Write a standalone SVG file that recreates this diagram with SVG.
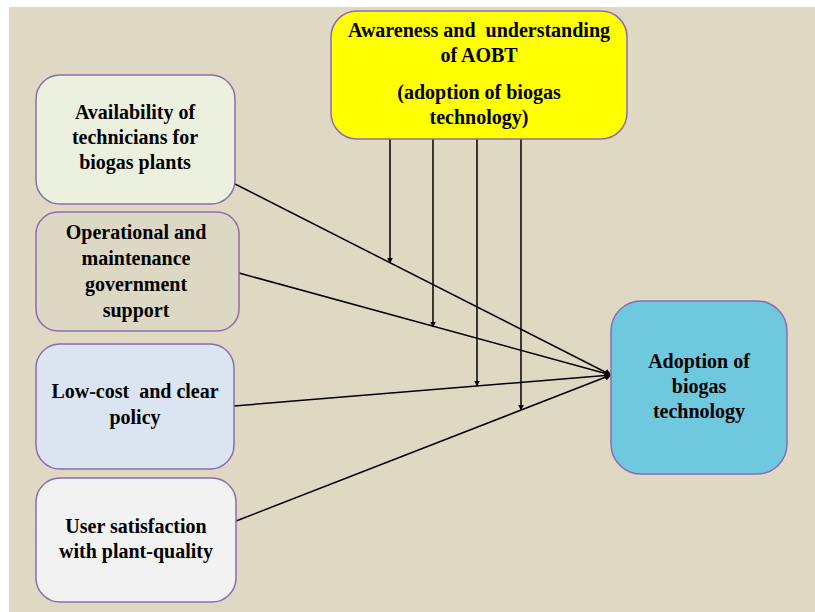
<svg xmlns="http://www.w3.org/2000/svg" width="815" height="612" viewBox="0 0 815 612">
<defs>
<marker id="ah" viewBox="0 0 10 10" refX="9" refY="5" markerWidth="7" markerHeight="7" markerUnits="userSpaceOnUse" orient="auto">
<path d="M0,0 L10,5 L0,10 Z" fill="#000"/>
</marker>
<marker id="ahs" viewBox="0 0 10 10" refX="9" refY="5" markerWidth="6" markerHeight="6" markerUnits="userSpaceOnUse" orient="auto">
<path d="M0,0 L10,5 L0,10 Z" fill="#000"/>
</marker>
</defs>
<style>
.box{stroke:#8E6BB0;stroke-width:1.5}
.t{font-family:"Liberation Serif","Times New Roman",serif;font-weight:bold;font-size:20px;fill:#000;text-anchor:middle}
.pre{white-space:pre}
.c{stroke:#000;stroke-width:1.5;fill:none}
</style>
<rect x="0" y="0" width="815" height="612" fill="#fff"/>
<rect x="9" y="7" width="806" height="605" fill="#DFD9C4"/>
<g id="connectors">
<line class="c" x1="235" y1="184" x2="611" y2="375" marker-end="url(#ah)"/>
<line class="c" x1="239" y1="273" x2="611" y2="375" marker-end="url(#ah)"/>
<line class="c" x1="234" y1="406" x2="611" y2="375" marker-end="url(#ah)"/>
<line class="c" x1="236" y1="521" x2="611" y2="375" marker-end="url(#ah)"/>
<line class="c" x1="390" y1="139" x2="390" y2="263" marker-end="url(#ahs)"/>
<line class="c" x1="433" y1="139" x2="433" y2="327" marker-end="url(#ahs)"/>
<line class="c" x1="477" y1="139" x2="477" y2="386" marker-end="url(#ahs)"/>
<line class="c" x1="521" y1="139" x2="521" y2="410" marker-end="url(#ahs)"/>
</g>
<g id="awareness">
<rect class="box" x="331" y="11" width="296" height="128" rx="26" fill="#FFFF00"/>
<text class="t pre" x="479" y="37" xml:space="preserve">Awareness and  understanding</text>
<text class="t" x="479" y="62">of AOBT</text>
<text class="t" x="479" y="99">(adoption of biogas</text>
<text class="t" x="479" y="124">technology)</text>
</g>
<g id="availability">
<rect class="box" x="36" y="75" width="199" height="129" rx="24" fill="#EBF1DE"/>
<text class="t" x="135" y="119">Availability of</text>
<text class="t" x="135" y="144">technicians for</text>
<text class="t" x="135" y="169">biogas plants</text>
</g>
<g id="operational">
<rect class="box" x="36" y="212" width="203" height="119" rx="22" fill="#DDD8C3"/>
<text class="t" x="136" y="239">Operational and</text>
<text class="t" x="136" y="265">maintenance</text>
<text class="t" x="136" y="291">government</text>
<text class="t" x="136" y="317">support</text>
</g>
<g id="lowcost">
<rect class="box" x="36" y="344" width="198" height="125" rx="24" fill="#DBE5F1"/>
<text class="t pre" x="135" y="398" xml:space="preserve">Low-cost  and clear</text>
<text class="t" x="135" y="424">policy</text>
</g>
<g id="satisfaction">
<rect class="box" x="36" y="478" width="200" height="124" rx="24" fill="#F2F2F2"/>
<text class="t" x="136" y="533">User satisfaction</text>
<text class="t" x="136" y="558">with plant-quality</text>
</g>
<g id="adoption">
<rect class="box" x="611" y="301" width="176" height="173" rx="30" fill="#6FC9DE"/>
<text class="t" x="699" y="368">Adoption of</text>
<text class="t" x="699" y="393">biogas</text>
<text class="t" x="699" y="418">technology</text>
</g>
</svg>
